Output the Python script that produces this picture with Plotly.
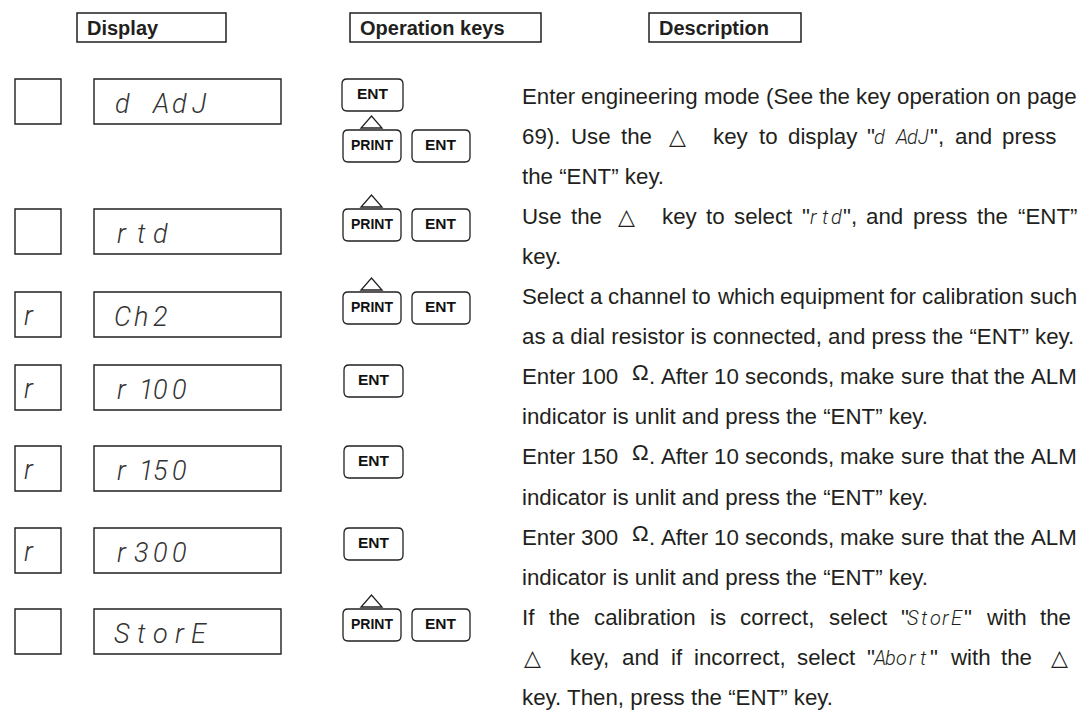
import re
import plotly.graph_objects as go

# ---------------- data ----------------
headers = ["Display", "Operation keys", "Description"]
side_display = ["", "", "r", "r", "r", "r", ""]
main_display = ["d AdJ", "rtd", "Ch2", "r100", "r150", "r300", "StorE"]
# "ENT" = single ENT key, "UP+ENT" = PRINT (with up-arrow) and ENT, "ENT/UP+ENT" = both stacked
step_keys = ["ENT/UP+ENT", "UP+ENT", "UP+ENT", "ENT", "ENT", "ENT", "UP+ENT"]
step_desc = [
    ["Enter engineering mode (See the key operation on page",
     "69). Use the {tri} key to display \"{g:d AdJ}\", and press",
     "the “ENT” key."],
    ["Use the {tri} key to select \"{g:rtd}\", and press the “ENT”",
     "key."],
    ["Select a channel to which equipment for calibration such",
     "as a dial resistor is connected, and press the “ENT” key."],
    ["Enter 100 {om}. After 10 seconds, make sure that the ALM",
     "indicator is unlit and press the “ENT” key."],
    ["Enter 150 {om}. After 10 seconds, make sure that the ALM",
     "indicator is unlit and press the “ENT” key."],
    ["Enter 300 {om}. After 10 seconds, make sure that the ALM",
     "indicator is unlit and press the “ENT” key."],
    ["If the calibration is correct, select \"{g:StorE}\" with the",
     "{tri} key, and if incorrect, select \"{g:Abort}\" with the {tri}",
     "key. Then, press the “ENT” key."],
]

# ---------------- style / layout ----------------
W, H = 1085, 710
INK = "#231f20"
SANS = "Liberation Sans, Arial, sans-serif"
SEG = "Roboto, Liberation Sans, sans-serif"
FS = 22.3
X0, XR = 513, 1068
LINE_Y0, LINE_DY = 88, 40.1
BOX_TOPS = [71, 201, 284, 357, 438, 520, 601]
BOX_H = 45
GP = 11.0  # inline segment-glyph pitch
line_right = {(0, 1): 1048, (6, 0): 1062, (6, 1): 1062}

AW = {' ': 278, '!': 278, '"': 355, "'": 191, '(': 333, ')': 333, ',': 278, '-': 333, '.': 278,
      '/': 278, ':': 278, ';': 278, '?': 556, '“': 333, '”': 333}
for c in "0123456789":
    AW[c] = 556
AW.update(dict(zip("ABCDEFGHIJKLMNOPQRSTUVWXYZ",
                   [667, 667, 722, 722, 667, 611, 778, 722, 278, 500, 667, 556, 833, 722, 778, 667, 778,
                    722, 667, 611, 722, 667, 944, 667, 667, 611])))
AW.update(dict(zip("abcdefghijklmnopqrstuvwxyz",
                   [556, 556, 500, 556, 556, 278, 556, 556, 222, 222, 500, 222, 833, 556, 556, 556, 556,
                    333, 500, 278, 556, 500, 722, 500, 500, 500])))


def aw(s, size):
    return sum(AW.get(c, 556) for c in s) / 1000.0 * size


shapes, anns = [], []


def rect(x0, y0, x1, y1, w=1.4):
    shapes.append(dict(type="rect", xref="x", yref="y", x0=x0, y0=y0, x1=x1, y1=y1,
                       line=dict(color=INK, width=w)))


def rrect(x0, y0, x1, y1, r=5, w=1.3):
    p = (f"M{x0+r},{y0} L{x1-r},{y0} Q{x1},{y0} {x1},{y0+r} L{x1},{y1-r} Q{x1},{y1} {x1-r},{y1} "
         f"L{x0+r},{y1} Q{x0},{y1} {x0},{y1-r} L{x0},{y0+r} Q{x0},{y0} {x0+r},{y0} Z")
    shapes.append(dict(type="path", xref="x", yref="y", path=p, line=dict(color=INK, width=w)))


def tri_shape(cx, ybot, ytop, hw=10.5):
    p = f"M{cx-hw},{ybot} L{cx+hw},{ybot} L{cx},{ytop} Z"
    shapes.append(dict(type="path", xref="x", yref="y", path=p, line=dict(color=INK, width=1.3)))


def text(x, y, s, size, family=SANS, anchor="left", weight=None, style=None, color=INK, yshift=0):
    f = dict(family=family, size=size, color=color)
    if weight:
        f["weight"] = weight
    if style:
        f["style"] = style
    anns.append(dict(x=x, y=y, xref="x", yref="y", text=s, showarrow=False, xanchor=anchor,
                     yanchor="middle", font=f, borderpad=0, yshift=yshift))


# headers
HEAD_BOXES = [(69, 218), (342, 533), (641, 793)]
for (hx0, hx1), h in zip(HEAD_BOXES, headers):
    rect(hx0, 5, hx1, 34, w=1.5)
    text(hx0 + 9, 20, f"<b>{h}</b>", 20)

# displays
for top, side, main in zip(BOX_TOPS, side_display, main_display):
    rect(7, top, 53, top + BOX_H)
    rect(86, top, 273, top + BOX_H)
    cy = top + BOX_H / 2
    if side:
        text(21, cy + 1, side, 27, family=SEG, anchor="center", weight=300, style="italic", color="#333")
    for i, ch in enumerate(main):
        if ch == " ":
            continue
        cx = 114 + 19.3 * i + (5 if ch == "1" else 0)
        text(cx, cy + 2, ch, 27, family=SEG, anchor="center", weight=300, style="italic", color="#333")


# keys
def key(x0, x1, top, label, size):
    rrect(x0, top, x1, top + 32)
    text((x0 + x1) / 2, top + 14.5, f"<b>{label}</b>", size, anchor="center", color="#111")


def up_ent(top):
    tri_shape(363.5, top - 2, top - 14)
    key(335, 393, top, "PRINT", 14)
    key(404, 462, top, "ENT", 15.5)


for top, ks in zip(BOX_TOPS, step_keys):
    if ks == "ENT/UP+ENT":
        key(334, 395, top, "ENT", 15.5)
        up_ent(top + 51)
    elif ks == "UP+ENT":
        up_ent(top)
    else:
        key(336, 395, top, "ENT", 15.5)

# description text
TOK = re.compile(r"\{(tri|om|g:[^}]*)\}")


def add_words(toks, s, pending):
    if not s:
        return pending
    parts = s.split(" ")
    for i, p in enumerate(parts):
        if i > 0:
            pending = True
        if p:
            toks.append(["w", p, pending])
            pending = False
    return pending


def parse(line):
    toks, pos, pending = [], 0, False
    for m in TOK.finditer(line):
        pending = add_words(toks, line[pos:m.start()], pending)
        t = m.group(1)
        if t == "tri":
            toks.append(["tri", "△", pending])
        elif t == "om":
            toks.append(["om", "Ω", pending])
        else:
            toks.append(["g", t[2:], pending])
        pending = False
        pos = m.end()
    add_words(toks, line[pos:], pending)
    return toks


def tok_w(t):
    k, s = t[0], t[1]
    if k == "w":
        return aw(s, FS)
    if k == "g":
        return len(s) * GP
    if k == "tri":
        return 22
    return 17


SP = 0.278 * FS
k_line = 0
for si, lines in enumerate(step_desc):
    for li, line in enumerate(lines):
        y = LINE_Y0 + LINE_DY * k_line
        k_line += 1
        toks = parse(line)
        gaps = []
        for j, t in enumerate(toks):
            if j == 0 or not t[2]:
                gaps.append(0)
                continue
            g = SP
            if t[0] == "tri":
                g = 11
            elif t[0] == "om":
                g = 13
            elif toks[j - 1][0] == "tri":
                g = 20
            gaps.append(g)
        right = line_right.get((si, li), XR)
        justify = li < len(lines) - 1
        natural = sum(gaps) + sum(tok_w(t) for t in toks)
        nsp = sum(1 for g in gaps if g > 0)
        extra = max((right - X0 - natural) / nsp, -2.0) if (justify and nsp) else 0
        pos = []
        x = X0
        for j, t in enumerate(toks):
            if gaps[j] > 0:
                x += gaps[j] + extra
            pos.append(x)
            x += tok_w(t)
        # render
        j = 0
        while j < len(toks):
            t = toks[j]
            if t[0] == "w":
                if justify:
                    text(pos[j], y, t[1], FS)
                    j += 1
                else:
                    words = [t[1]]
                    x_start = pos[j]
                    j += 1
                    while j < len(toks) and toks[j][0] == "w":
                        words.append((" " if toks[j][2] else "") + toks[j][1])
                        j += 1
                    text(x_start, y, "".join(words), FS)
            elif t[0] == "g":
                for ci, ch in enumerate(t[1]):
                    if ch != " ":
                        text(pos[j] + GP * ci + GP / 2, y + 1, ch, 20, family=SEG, anchor="center",
                             weight=300, style="italic")
                j += 1
            elif t[0] == "tri":
                text(pos[j] + 11, y, "△", 22, family="DejaVu Sans", anchor="center")
                j += 1
            else:
                text(pos[j], y, "Ω", FS, yshift=4)
                j += 1

fig = go.Figure()
fig.update_layout(
    width=W, height=H, autosize=False,
    margin=dict(l=0, r=0, t=0, b=0),
    paper_bgcolor="white", plot_bgcolor="white",
    xaxis=dict(range=[0, W], visible=False, fixedrange=True),
    yaxis=dict(range=[H, 0], visible=False, fixedrange=True),
    shapes=shapes, annotations=anns, showlegend=False,
)
fig.write_html("out.html")
